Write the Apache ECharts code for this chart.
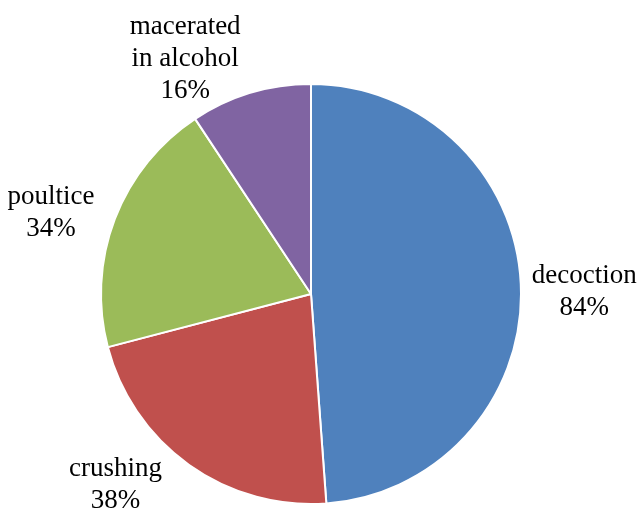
<!DOCTYPE html>
<html>
<head>
<meta charset="utf-8">
<script src="https://cdn.jsdelivr.net/npm/echarts@6/dist/echarts.min.js"></script>
<style>
  html, body { margin: 0; padding: 0; background: #fff; }
  #main { width: 637px; height: 512px; }
</style>
</head>
<body>
<div id="main"></div>
<script>
var categories = ['decoction', 'crushing', 'poultice', 'macerated\nin alcohol']
var values = [84, 38, 34, 16]
var colors = ['#4F81BD', '#C0504D', '#9BBB59', '#8064A2']
// small nudges so the labels sit where the original puts them
var labelShift = [[-4, 6], [-16, 12], [-6, -3], [-2, -24]]

var myChart = echarts.init(document.getElementById('main'))
myChart.setOption({
  animation: false,
  color: colors,
  series: [{
    type: 'pie',
    center: [311, 294],
    radius: 210,
    startAngle: 90,
    clockwise: true,
    itemStyle: {
      borderColor: '#fff',
      borderWidth: 2
    },
    label: {
      show: true,
      position: 'outside',
      overflow: 'none',
      edgeDistance: 0,
      formatter: function (p) { return p.name + '\n' + p.value + '%' },
      fontFamily: '"Liberation Serif", "Times New Roman", serif',
      fontSize: 27,
      lineHeight: 32,
      color: '#000'
    },
    labelLine: { show: false, length: 10, length2: 0 },
    labelLayout: function (p) {
      var r = p.labelRect
      var s = labelShift[p.dataIndex]
      return {
        x: r.x + r.width / 2 + s[0],
        y: r.y + r.height / 2 + s[1],
        align: 'center',
        verticalAlign: 'middle'
      }
    },
    data: categories.map(function (c, i) {
      return { name: c, value: values[i] }
    })
  }]
})
</script>
</body>
</html>
